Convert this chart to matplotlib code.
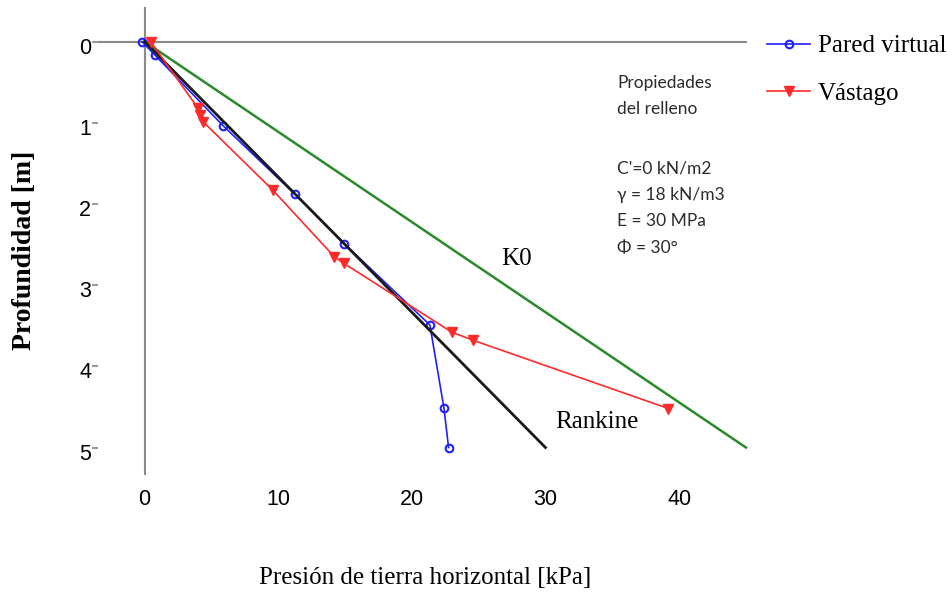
import matplotlib
matplotlib.use("Agg")
import matplotlib.pyplot as plt
from matplotlib.transforms import ScaledTranslation

# -------- Datos --------
# Pared virtual: presion horizontal [kPa] vs profundidad [m]
pared_presion = [-0.2, 0.8, 5.9, 11.25, 14.95, 21.35, 22.4, 22.75]
pared_prof = [0.0, 0.17, 1.04, 1.88, 2.49, 3.49, 4.51, 5.0]

# Vastago
vastago_presion = [0.45, 4.0, 4.15, 4.4, 9.6, 14.2, 14.9, 23.0, 24.6, 39.2]
vastago_prof = [0.0, 0.82, 0.91, 0.99, 1.83, 2.65, 2.73, 3.58, 3.68, 4.52]

# Teoricos: Rankine (Ka = 1/3) y reposo K0 = 1 - sin(30)
rankine_presion = [0, 30]
rankine_prof = [0, 5]
k0_presion = [0, 45]
k0_prof = [0, 5]

x_ticks = [0, 10, 20, 30, 40]
y_ticks = [0, 1, 2, 3, 4, 5]

prop_titulo = ["Propiedades", "del relleno"]
prop_valores = ["C'=0 kN/m2", "γ = 18 kN/m3", "E = 30 MPa", "Φ = 30°"]

SERIF = ["Liberation Serif", "DejaVu Serif"]
NARROW = ["Liberation Sans Narrow", "Liberation Sans", "DejaVu Sans"]
SANS = ["Lato", "DejaVu Sans"]

W, H = 948, 592


def fx(px):
    return px / W


def fy(py):
    return 1 - py / H


fig = plt.figure(figsize=(W / 100, H / 100), dpi=100)
ax = fig.add_axes([0.1038, 0.1755, 0.7042, 0.8160])

# ejes en cero (gris)
ax.hlines(0, -3.45, 45.1, color="#8a8a8a", lw=1.5, zorder=1)
ax.vlines(0, -0.42, 5.34, color="#8a8a8a", lw=1.5, zorder=1)

ax.plot(k0_presion, k0_prof, color="#2b8a2b", lw=1.8, zorder=2)
ax.plot(pared_presion, pared_prof, color="#1f1fff", lw=1.2, marker="o",
        ms=5.5, mfc="none", mew=1.5, label="Pared virtual", zorder=3)
ax.plot(rankine_presion, rankine_prof, color="#1a1a1a", lw=2.0, zorder=3)
ax.plot(vastago_presion, vastago_prof, color="#ff2a2a", lw=1.2, marker="v",
        ms=7, label="Vástago", zorder=4)

ax.set_xlim(-3.45, 46.5)
ax.set_ylim(5.5, -0.45)
for s in ax.spines.values():
    s.set_visible(False)

ax.set_xticks(x_ticks)
ax.set_yticks(y_ticks)
ax.tick_params(axis="x", length=0, pad=1, labelsize=15.5)
ax.tick_params(axis="y", length=4.3, width=1.5, color="#9a9a9a",
               direction="out", pad=1, labelsize=15.5)
shift = ScaledTranslation(0, -3 / 72, fig.dpi_scale_trans)
for lab in ax.get_xticklabels():
    lab.set_fontfamily(NARROW)
for lab in ax.get_yticklabels():
    lab.set_fontfamily(NARROW)
    lab.set_transform(lab.get_transform() + shift)

# etiquetas de curvas teoricas
ax.text(27.8, 2.68, "K0", fontsize=18, family=SERIF, ha="center", va="center")
ax.text(33.85, 4.69, "Rankine", fontsize=18, family=SERIF, ha="center", va="center")

# titulos de ejes
fig.text(fx(425), fy(578), "Presión de tierra horizontal [kPa]", fontsize=18,
         family=SERIF, ha="center", va="center")
fig.text(fx(25), fy(250), "Profundidad [m]", fontsize=20, fontweight="bold",
         family=SERIF, rotation=90, ha="center", va="center")

# propiedades del relleno
for i, s in enumerate(prop_titulo):
    fig.text(fx(617), fy(83 + 26.5 * i), s, fontsize=12.5, family=SANS,
             color="#2b2b2b", ha="left", va="center")
for i, s in enumerate(prop_valores):
    fig.text(fx(617), fy(168 + 26.7 * i), s, fontsize=12.5, family=SANS,
             color="#2b2b2b", ha="left", va="center")

ax.legend(loc="upper left", bbox_to_anchor=(fx(767), fy(35)),
          bbox_transform=fig.transFigure, frameon=False,
          prop={"family": SERIF, "size": 18}, handlelength=1.72,
          handletextpad=0.3, labelspacing=1.0, borderpad=0, borderaxespad=0)

fig.savefig("out.png", dpi=100)
